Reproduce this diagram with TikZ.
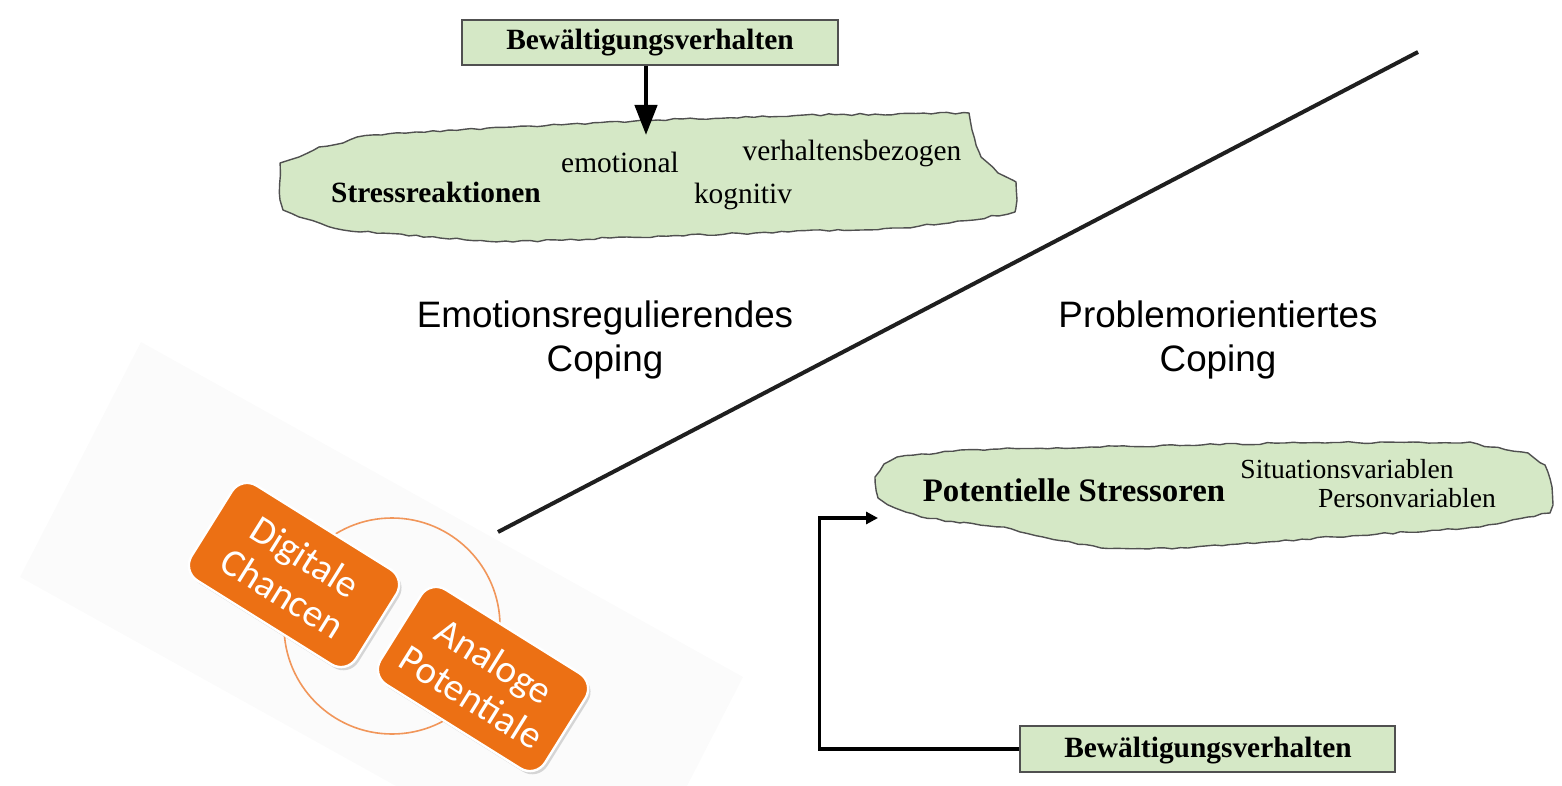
\documentclass[tikz,border=0pt]{standalone}
\usepackage{fontspec}
\setmainfont{Liberation Serif}
\newfontfamily\labelsans{Liberation Sans}
\newfontfamily\tilesans{Carlito}
\usetikzlibrary{arrows.meta,shadows,decorations.pathmorphing}
\definecolor{paleGreen}{RGB}{213,232,198}
\definecolor{edgeGray}{RGB}{80,80,80}
\definecolor{tileOrange}{RGB}{236,112,20}
\definecolor{ringOrange}{RGB}{241,150,90}
\begin{document}
\begin{tikzpicture}[x=0.5pt,y=-0.5pt,
  greenbox/.style={draw=edgeGray, line width=0.7pt, fill=paleGreen, inner sep=0pt},
  cloudshape/.style={draw=edgeGray, line width=0.7pt, fill=paleGreen, line join=round,
    decorate, decoration={random steps, segment length=4pt, amplitude=0.5pt}},
  boldlabel/.style={font=\fontsize{14.7}{17}\selectfont\bfseries, inner sep=0pt},
  plainlabel/.style={font=\fontsize{14.7}{17}\selectfont, inner sep=0pt},
  smalllabel/.style={font=\fontsize{13.8}{16}\selectfont, inner sep=0pt},
  headlabel/.style={font=\labelsans\fontsize{18.4}{22}\selectfont, align=center, inner sep=0pt},
  tile/.style={rounded corners=9pt, fill=tileOrange, draw=white, line width=1.2pt,
    minimum width=97pt, minimum height=56pt, rotate=-32, text=white, align=center,
    font=\tilesans\fontsize{19.5}{21.5}\selectfont,
    drop shadow={opacity=0.3, shadow xshift=1.2pt, shadow yshift=-1.6pt}},
  thickarrow/.style={line width=2.2pt, -{Triangle[length=15pt,width=11pt]}},
  feedback/.style={line width=1.6pt, line join=miter, -{Triangle[length=6pt,width=6pt]}}
]
\pgfmathsetseed{11}
\useasboundingbox (0,0) rectangle (1562,786);

% faint backdrop behind the tile group
\fill[black!1.5] (141,342) -- (743,677) -- (687,786) -- (396,786) -- (20,577) -- cycle;

% ring linking both tiles
\draw[ringOrange, line width=0.8pt] (392,626) circle[radius=108];

% orange tiles
\node[tile] (digital) at (294,575) {Digitale\\Chancen};
\node[tile] (analog) at (483,679) {Analoge\\Potentiale};

% dividing diagonal
\coordinate (divLow) at (498,532);
\coordinate (divHigh) at (1418,52);
\draw[line width=2pt, black!88] (divLow) -- (divHigh);

% stress reactions cloud
\draw[cloudshape] (280,163) -- (299,157) -- (319,147) -- (343,143) -- (357,137) -- (416,132)
  -- (513,127) -- (658,120) -- (804,115) -- (969,113) -- (972,130) -- (981,157)
  -- (998,173) -- (1016,182) -- (1017,200) -- (1015,212) -- (974,220) -- (901,228)
  -- (755,233) -- (610,238) -- (513,242) -- (440,238) -- (343,230) -- (299,217)
  -- (283,210) -- (280,200) -- cycle;
\node[boldlabel] (reactions) at (436,192) {Stressreaktionen};
\node[plainlabel] (emotional) at (620,162) {emotional};
\node[plainlabel] (behaviour) at (852,153) {verhaltensbezogen};
\node[plainlabel] (cognitive) at (743,196) {kognitiv};

% coping behaviour, top
\node[greenbox, minimum width=188pt, minimum height=22.5pt] (copingTop) at (650,42.5) {};
\node[boldlabel] (copingTopText) at (650,43) {Bewältigungsverhalten};
\coordinate (reactionsIn) at (646,135);
\draw[thickarrow] (copingTop.south -| reactionsIn) -- (reactionsIn);

% headings
\node[headlabel] (emoHead) at (605,340) {Emotionsregulierendes\\Coping};
\node[headlabel] (probHead) at (1218,340) {Problemorientiertes\\Coping};

% potential stressors cloud
\draw[cloudshape] (875,477) -- (884,464) -- (897,457) -- (960,450) -- (1091,447)
  -- (1285,443) -- (1470,442) -- (1490,447) -- (1528,453) -- (1545,465) -- (1552,487)
  -- (1553,505) -- (1550,513) -- (1528,517) -- (1480,527) -- (1334,537) -- (1188,548)
  -- (1101,548) -- (1043,537) -- (1004,527) -- (960,523) -- (921,517) -- (895,508)
  -- (878,498) -- cycle;
\node[font=\fontsize{16.4}{19}\selectfont\bfseries, inner sep=0pt] (stressors) at (1074,490) {Potentielle Stressoren};
\node[smalllabel] (situation) at (1347,469) {Situationsvariablen};
\node[smalllabel] (person) at (1407,498) {Personvariablen};

% coping behaviour, bottom, feeding back to the stressors
\node[greenbox, minimum width=187.5pt, minimum height=23pt] (copingBottom) at (1207.5,749) {};
\node[boldlabel] (copingBottomText) at (1208,751) {Bewältigungsverhalten};
\coordinate (stressorsIn) at (878,518);
\draw[feedback] (copingBottom.west) -- ++(-200,0) |- (stressorsIn);
\end{tikzpicture}
\end{document}
